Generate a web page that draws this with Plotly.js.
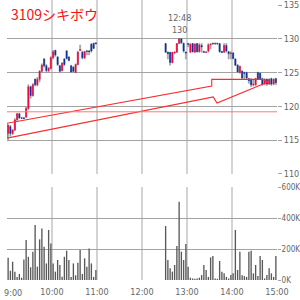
<!DOCTYPE html>
<html><head><meta charset="utf-8">
<script src="https://cdn.plot.ly/plotly-3.0.1.min.js"></script>
<style>html,body{margin:0;padding:0;background:#fff}#c{width:300px;height:300px}</style>
</head><body><div id="c"></div>
<script>
const chartTitle = "3109シキボウ";
const barMinutes = 3;
const amStart = "9:00";
const pmStart = "12:30";

const amOpen  = [116.0,117.0,116.0,116.5,118.0,118.9,118.3,118.3,118.4,119.7,122.9,121.6,124.0,123.2,124.0,125.2,127.0,126.0,125.3,125.6,127.2,128.3,127.3,126.0,125.3,127.0,128.2,127.3,126.0,125.8,125.0,126.2,128.3,128.0,127.2,128.2,128.2,129.2,129.3,129.4];
const amHigh  = [117.3,117.2,116.6,118.2,119.0,119.0,118.4,118.4,119.9,123.2,123.0,123.4,124.1,124.3,125.3,126.3,127.1,126.2,125.8,127.4,128.3,128.3,127.4,126.1,126.5,127.1,128.3,127.4,126.1,125.9,126.3,128.2,129.1,128.2,128.2,128.3,128.3,129.3,129.4,129.4];
const amLow   = [114.9,115.6,115.8,116.4,117.9,118.2,118.2,118.2,118.4,119.5,121.2,121.5,123.0,123.0,123.6,125.0,125.8,125.0,125.0,125.5,127.0,127.4,126.0,125.0,125.2,126.0,127.0,126.7,125.0,125.0,125.0,126.1,128.2,127.0,127.0,127.6,127.6,128.0,128.5,129.2];
const amClose = [117.2,116.0,116.5,118.0,118.9,118.3,118.25,118.2,119.7,122.9,121.6,123.2,123.2,124.0,125.2,126.1,126.0,125.3,125.6,127.2,128.1,127.6,126.2,125.2,126.4,126.2,127.1,126.8,125.1,125.2,126.2,128.0,128.4,127.2,128.1,128.15,128.1,128.2,128.6,129.3];
const amVolumeK = [144,60,118,54,20,39,15,133,258,150,82,183,355,86,262,333,215,107,323,236,107,54,129,97,21,150,189,129,20,107,30,112,194,39,140,86,204,107,20,64];

const pmOpen  = [129.3,128.0,128.0,126.5,127.9,128.0,129.3,130.0,129.3,128.0,129.3,128.0,129.3,128.0,129.3,128.1,129.0,128.1,128.0,128.2,129.1,129.3,129.3,129.3,129.3,128.1,128.0,129.0,128.1,127.8,127.9,127.0,126.1,125.0,125.2,125.0,125.0,124.1,124.0,123.2,123.2,125.0,124.9,124.1,123.3,124.0,123.3,124.1,123.3,124.1];
const pmHigh  = [129.3,128.1,128.0,128.0,128.1,129.3,130.0,130.0,129.4,128.1,129.3,129.3,129.3,129.3,129.3,129.3,129.3,128.2,128.1,129.3,129.3,129.4,129.4,129.4,129.3,128.2,129.3,129.3,128.1,128.1,128.0,127.1,126.2,126.0,125.3,125.1,125.1,124.2,124.1,124.0,124.2,125.1,125.0,124.2,124.1,124.1,124.1,124.2,124.1,124.2];
const pmLow   = [128.0,127.0,126.1,126.4,127.8,128.0,129.3,129.3,128.0,127.0,128.8,128.0,128.0,128.0,128.0,128.0,128.0,128.0,127.9,128.0,128.5,129.2,129.2,129.2,128.0,127.9,128.0,128.0,127.0,127.0,127.0,126.0,125.0,124.9,124.1,124.1,124.1,123.4,122.9,123.0,123.1,124.0,124.0,123.1,123.2,123.1,123.2,123.1,123.2,123.2];
const pmClose = [128.0,127.8,126.5,128.0,128.0,129.3,130.0,129.4,128.2,127.9,129.2,129.2,128.1,129.2,128.1,129.1,128.8,128.0,128.05,129.1,129.2,129.25,129.25,129.25,128.1,128.0,129.0,128.2,127.8,127.9,127.1,126.1,125.1,125.9,124.2,124.9,124.2,123.8,123.2,123.3,124.1,124.1,124.1,123.3,124.0,123.3,124.0,123.3,124.0,123.5];
const pmVolumeK = [348,129,75,54,97,219,505,183,129,232,86,15,10,8,10,15,32,97,65,20,146,155,10,8,123,54,43,20,10,32,43,323,65,183,30,25,20,183,189,43,97,25,155,129,10,32,75,43,20,155];

const prevClose = 119.2;
const arrowTime  = ["9:00","13:33","13:33","14:40","14:48","13:40","13:35","9:00","9:00"];
const arrowPrice = [117.5,123.0,124.0,124.0,123.6,120.5,121.4,115.3,117.5];

const xTickLabels = ["9:00","10:00","11:00","12:00","13:00","14:00","15:00"];
const priceTicks = [110,115,120,125,130,135];
const volTicks = [0,200,400,600];
const volTickLabels = ["0K","200K","400K","600K"];

function toHours(s){const p=s.split(':').map(Number);return p[0]+p[1]/60;}
function fmt(h){const H=Math.floor(h+1e-9);const M=Math.round((h-H)*60);return H+':'+String(M).padStart(2,'0');}
function barStarts(start,n){const t0=toHours(start);return Array.from({length:n},(_,i)=>t0+i*barMinutes/60);}

const amT = barStarts(amStart, amOpen.length);
const pmT = barStarts(pmStart, pmOpen.length);
const tStart = amT.concat(pmT);
const tx = tStart.map(t=>t+barMinutes/120);
const O = amOpen.concat(pmOpen), H = amHigh.concat(pmHigh), L = amLow.concat(pmLow), C = amClose.concat(pmClose);
const V = amVolumeK.concat(pmVolumeK);

const red = '#f2003c', blue = '#0a2fa0', gray = '#9c9c9c';

const rangeTrace = {type:'candlestick', x:tx, open:L, close:H, high:H, low:L, xaxis:'x', yaxis:'y',
  increasing:{line:{color:gray,width:0.5},fillcolor:gray}, decreasing:{line:{color:gray,width:0.5},fillcolor:gray},
  hoverinfo:'skip', showlegend:false};
const bodyTrace = {type:'candlestick', x:tx, open:O, close:C,
  high:O.map((o,i)=>Math.max(o,C[i])), low:O.map((o,i)=>Math.min(o,C[i])), xaxis:'x', yaxis:'y',
  increasing:{line:{color:red,width:0.5},fillcolor:red}, decreasing:{line:{color:blue,width:0.5},fillcolor:blue},
  hoverinfo:'skip', showlegend:false};
const volTrace = {type:'bar', x:tx, y:V, xaxis:'x', yaxis:'y2', width:0.03,
  marker:{color:'#595959', line:{width:0}}, hoverinfo:'skip', showlegend:false};
const arrowTrace = {type:'scatter', mode:'lines', x:arrowTime.map(toHours), y:arrowPrice, xaxis:'x', yaxis:'y',
  line:{color:'#ff2a2a', width:1.1}, hoverinfo:'skip', showlegend:false};
const xr = [toHours(xTickLabels[0]), toHours(xTickLabels[xTickLabels.length-1])];
const prevTrace = {type:'scatter', mode:'lines', x:xr, y:[prevClose,prevClose], xaxis:'x', yaxis:'y3',
  line:{color:'#ff7878', width:1}, hoverinfo:'skip', showlegend:false};

let hi = 0; for (let i=1;i<H.length;i++) if (H[i]>H[hi]) hi=i;

const narrow = 'DejaVu Sans Condensed, Liberation Sans Narrow, sans-serif';
const tickFont = {family:narrow, size:9, color:'#666'};
const volFont = {family:narrow, size:8, color:'#666'};
const yRange = [110, 135.74];
// the first (edge) label is drawn as a left-anchored annotation so it stays inside the picture
const xTickText = xTickLabels.map((s,i)=> i===0 ? '' : s);

const layout = {
  width:300, height:300, margin:{l:7,r:23,t:0,b:20},
  paper_bgcolor:'#fff', plot_bgcolor:'#fff', showlegend:false, boxmode:'overlay',
  xaxis:{range:xr, tickvals:xTickLabels.map(toHours), ticktext:xTickText, anchor:'y2',
    showgrid:true, gridcolor:'#d3d3d3', gridwidth:1.5, zeroline:false, showline:false, ticks:'',
    tickfont:tickFont, ticklabelstandoff:5, ticklabeloverflow:'allow', rangeslider:{visible:false}, fixedrange:true},
  yaxis:{domain:[0.3786,1], range:yRange, tickvals:priceTicks.slice(0,-1), showticklabels:false,
    gridcolor:'#a3a3a3', gridwidth:1, zeroline:false, side:'right', anchor:'x', ticks:''},
  yaxis3:{overlaying:'y', side:'right', anchor:'x', range:yRange, tickvals:priceTicks, showgrid:false,
    ticks:'outside', ticklen:4, tickcolor:'#a3a3a3', tickfont:tickFont, zeroline:false, ticklabeloverflow:'allow'},
  yaxis2:{domain:[0,0.3321], range:[0,600], tickvals:volTicks, ticktext:volTickLabels, side:'right', anchor:'x',
    ticks:'outside', ticklen:3, tickcolor:'#a3a3a3', gridcolor:'#a3a3a3', zeroline:false, tickfont:volFont,
    ticklabelstandoff:-1, ticklabeloverflow:'allow'},
  annotations:[
    {xref:'paper', yref:'paper', x:0.006, y:1, xanchor:'left', yanchor:'top', yshift:-2, showarrow:false,
     text:chartTitle, font:{family:'Noto Sans CJK JP', size:14, color:'#ff1010'}},
    {xref:'x', yref:'y', x:tx[hi], y:H[hi], xanchor:'center', yanchor:'bottom', yshift:2, showarrow:false,
     text:fmt(tStart[hi])+'<br>'+H[hi], font:{family:narrow, size:9, color:'#666'}},
    {xref:'x', yref:'paper', x:xr[0], y:0, xanchor:'left', yanchor:'top', xshift:-5, yshift:-6, showarrow:false,
     text:xTickLabels[0], font:tickFont}
  ]
};

Plotly.newPlot('c', [rangeTrace, bodyTrace, volTrace, arrowTrace, prevTrace], layout, {staticPlot:true, displayModeBar:false});
</script>
</body></html>
